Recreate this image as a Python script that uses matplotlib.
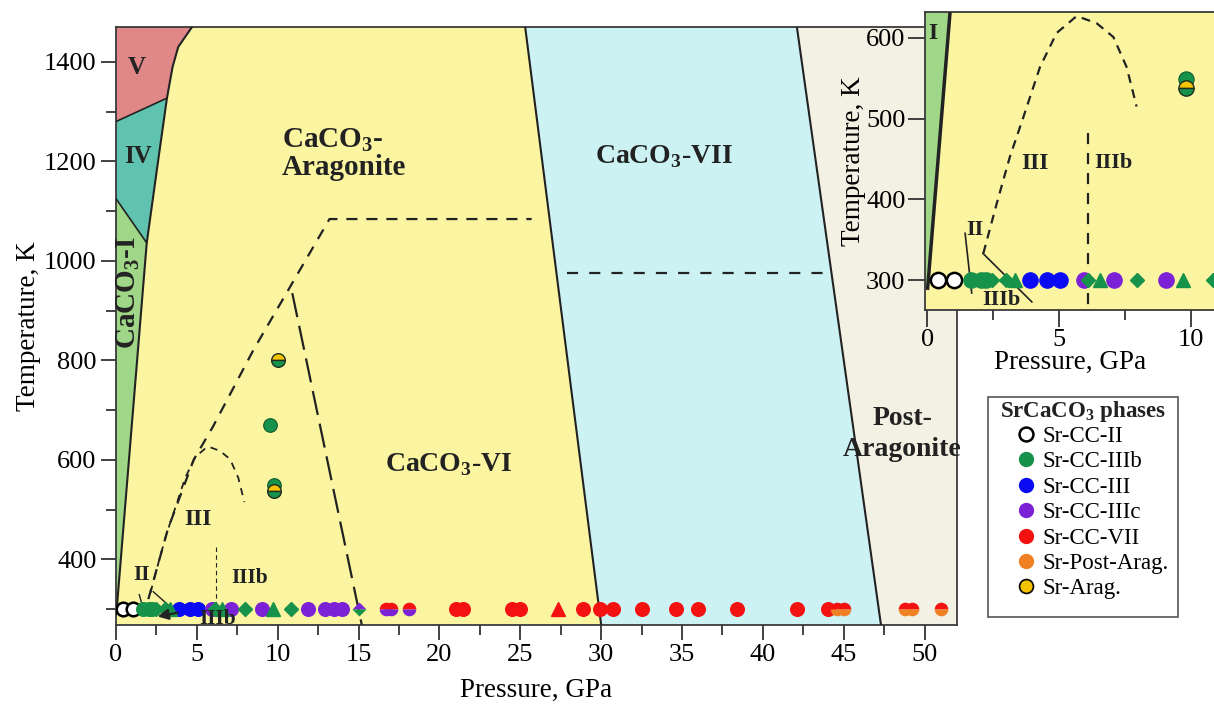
import matplotlib
matplotlib.use('Agg')
import matplotlib.pyplot as plt
from matplotlib.lines import Line2D
from matplotlib.patches import Rectangle

plt.rcParams['font.family'] = ['Liberation Serif', 'DejaVu Serif']
plt.rcParams['mathtext.fontset'] = 'custom'
plt.rcParams['mathtext.rm'] = 'Liberation Serif'
plt.rcParams['mathtext.bf'] = 'Liberation Serif:bold'

# phase boundaries of CaCO3 (pressure GPa, temperature K)
arag_p = [0.02, 1.9, 2.6, 3.15, 3.5, 3.85, 4.7]
arag_t = [290, 1036, 1200, 1327, 1390, 1430, 1470]
i_iv_p = [0.0, 1.9]
i_iv_t = [1125, 1036]
iv_v_p = [0.0, 3.15]
iv_v_t = [1280, 1327]
vi_vii_p = [25.3, 30.0]
vii_post_p = [42.1, 47.3]
bound_t = [1470, 268]

# dashed lines
env_p = [2.0, 3.2, 4.8, 6.0, 8.5, 13.2, 25.7]
env_t = [320, 460, 600, 667, 821, 1084, 1084]
branch_p = [10.9, 15.2]
branch_t = [935, 268]
dome_p = [2.13, 2.64, 3.14, 3.65, 4.28, 4.91, 5.67, 6.43, 7.06, 7.56, 7.94]
dome_t = [333, 395, 453, 502, 564, 606, 627, 618, 601, 564, 515]
vii_dash_p = [27.9, 44.0]
vii_dash_t = [975, 975]

# SrCaCO3 experimental points, at 300 K unless given
ii_p = [0.43, 1.03]
iiib_p = [1.65, 2.05, 2.25]
iiib_dia_p = [2.45, 3.0, 6.1, 7.95, 10.85]
iiib_tri_p = [3.35, 6.55, 9.7]
iiib_hot_p = [9.55, 9.8]
iiib_hot_t = [670, 549]
iii_p = [3.9, 4.55, 5.05]
iiic_p = [5.95, 7.1, 9.05, 11.85, 12.95, 13.45, 13.95]
iiic_iiib_dia_p = [15.0]
vii_iiic_p = [16.7, 17.0, 18.1]
vii_p = [21.0, 21.45, 24.5, 24.95, 28.85, 29.9, 30.75, 32.5, 34.6, 36.0, 38.4, 42.1, 44.0]
vii_tri_p = [27.3]
vii_post_p2 = [44.6, 45.0, 48.8, 49.2, 51.0]
arag_p_pts = [10.0, 9.8]
arag_t_pts = [800, 538]

legend_labels = ['Sr-CC-II', 'Sr-CC-IIIb', 'Sr-CC-III', 'Sr-CC-IIIc',
                 'Sr-CC-VII', 'Sr-Post-Arag.', 'Sr-Arag.']

yellow = '#fbf5a2'
cyan = '#cdf2f4'
beige = '#f3f1e3'
pink = '#e08888'
teal = '#5fc3af'
lgreen = '#a0d688'
green = '#17924a'
blue = '#0a0af5'
purple = '#7b22d6'
red = '#f41111'
orange = '#f08024'
gold = '#f5c400'
ink = '#222222'

W, H = 1214, 704
fig = plt.figure(figsize=(W / 100, H / 100), dpi=100)
ax = fig.add_axes([116 / W, 1 - 625 / H, (957 - 116) / W, (625 - 27) / H])
ax.set_xlim(0, 52)
ax.set_ylim(268, 1470)
ax.set_facecolor(yellow)


def points(a, s):
    T = 300
    ms = 9.8 * s
    a.plot(ii_p, [T] * len(ii_p), 'o', ms=ms, mfc='white', mec='black', mew=1.8, zorder=6)
    a.plot(iiib_p, [T] * len(iiib_p), 'o', ms=ms, color=green, zorder=6)
    a.plot(iii_p, [T] * len(iii_p), 'o', ms=ms, color=blue, zorder=6)
    a.plot(iiic_p, [T] * len(iiic_p), 'o', ms=ms, color=purple, zorder=6)
    a.plot(vii_iiic_p, [T] * len(vii_iiic_p), 'o', ms=ms, mfc=red, mfcalt=purple,
           fillstyle='top', mec='none', zorder=6)
    a.plot(vii_p, [T] * len(vii_p), 'o', ms=ms, color=red, zorder=6)
    a.plot(vii_post_p2, [T] * len(vii_post_p2), 'o', ms=ms, mfc=red, mfcalt=orange,
           fillstyle='top', mec='none', zorder=6)
    a.plot(iiib_dia_p, [T] * len(iiib_dia_p), 'D', ms=6.8 * s, color=green, zorder=7)
    a.plot(iiic_iiib_dia_p, [T], 'D', ms=6.8 * s, mfc=purple, mfcalt=green,
           fillstyle='top', mec='none', zorder=7)
    a.plot(iiib_tri_p, [T] * len(iiib_tri_p), '^', ms=9.5 * s, color=green, zorder=7)
    a.plot(vii_tri_p, [T], '^', ms=9.5 * s, color=red, zorder=7)
    a.plot(iiib_hot_p, iiib_hot_t, 'o', ms=ms, mfc=green, mec='#0c5a2c', mew=0.8, zorder=6)
    a.plot(arag_p_pts, arag_t_pts, 'o', ms=ms, mfc=gold, mfcalt=green, fillstyle='top',
           mec='#1f2d1f', mew=1.0, zorder=7)


# coloured phase fields
ax.fill([vi_vii_p[0], vii_post_p[0], vii_post_p[1], vi_vii_p[1]],
        [1470, 1470, 268, 268], color=cyan, lw=0, zorder=1)
ax.fill([vii_post_p[0], 52, 52, vii_post_p[1]], [1470, 1470, 268, 268], color=beige, lw=0, zorder=1)
ax.fill([0] + arag_p[:2] + [0], [290] + arag_t[:2] + [i_iv_t[0]], color=lgreen, lw=0, zorder=1)
ax.fill([0, 1.9, 2.6, 3.15, 0], [1125, 1036, 1200, 1327, 1280], color=teal, lw=0, zorder=1)
ax.fill([0] + arag_p[3:] + [0], [1280] + arag_t[3:] + [1470], color=pink, lw=0, zorder=1)

ax.plot(arag_p, arag_t, color=ink, lw=1.5, zorder=3)
ax.plot(i_iv_p, i_iv_t, color=ink, lw=1.2, zorder=3)
ax.plot(iv_v_p, iv_v_t, color=ink, lw=1.2, zorder=3)
ax.plot(vi_vii_p, bound_t, color=ink, lw=1.5, zorder=3)
ax.plot(vii_post_p, bound_t, color=ink, lw=1.5, zorder=3)

ax.plot(env_p, env_t, color=ink, lw=1.6, ls=(0, (5, 4)), zorder=3)
ax.plot(branch_p, branch_t, color=ink, lw=1.6, ls=(0, (11, 4)), zorder=3)
ax.plot(dome_p, dome_t, color=ink, lw=1.3, ls=(0, (4, 3.5)), zorder=3)
ax.plot([6.2, 6.2], [425, 300], color=ink, lw=0.8, ls=(0, (4, 3)), zorder=3)
ax.plot(vii_dash_p, vii_dash_t, color=ink, lw=1.6, ls=(0, (5, 5)), zorder=3)
ax.plot([1.44, 1.65], [329, 304], color=ink, lw=1.0, zorder=3)
ax.plot([2.3, 3.34], [335, 305], color=ink, lw=1.0, zorder=3)
ax.annotate('', xy=(2.4, 284), xytext=(4.0, 294),
            arrowprops=dict(arrowstyle='-|>', color=ink, lw=1.6, mutation_scale=16), zorder=9)

points(ax, 1.0)

bold = dict(fontweight='bold', color=ink, ha='center', va='center')
ax.text(1.28, 1388, 'V', fontsize=18, **bold)
ax.text(1.37, 1210, 'IV', fontsize=18, **bold)
ax.text(0.72, 935, r'CaCO$_\mathbf{3}$-I', fontsize=21, rotation=90, **bold)
ax.text(10.25, 1243, r'CaCO$_\mathbf{3}$-', fontsize=21, fontweight='bold', color=ink, ha='left', va='center')
ax.text(10.25, 1187, 'Aragonite', fontsize=21, fontweight='bold', color=ink, ha='left', va='center')
ax.text(33.9, 1209, r'CaCO$_\mathbf{3}$-VII', fontsize=20, **bold)
ax.text(20.6, 590, r'CaCO$_\mathbf{3}$-VI', fontsize=20, **bold)
ax.text(48.6, 684, 'Post-', fontsize=20, **bold)
ax.text(48.6, 620, 'Aragonite', fontsize=20, **bold)
ax.text(5.07, 480, 'III', fontsize=17, **bold)
ax.text(8.28, 363, 'IIIb', fontsize=15.5, **bold)
ax.text(1.59, 369, 'II', fontsize=15.5, **bold)
ax.text(6.3, 280, 'IIIb', fontsize=15.5, zorder=8, **bold)

ax.set_xticks(range(0, 51, 5))
ax.set_xticks([2.5 + 5 * i for i in range(10)], minor=True)
ax.set_yticks([400, 600, 800, 1000, 1200, 1400])
ax.set_yticks([300, 500, 700, 900, 1100, 1300], minor=True)
ax.tick_params(which='major', direction='out', length=11, width=1.2, labelsize=19, color=ink, pad=3)
ax.tick_params(which='minor', direction='out', length=7, width=1.2, color=ink)
ax.set_xlabel('Pressure, GPa', fontsize=19.5, labelpad=8)
ax.set_ylabel('Temperature, K', fontsize=19.5, labelpad=2)
for sp in ax.spines.values():
    sp.set_color('#3a3a3a')
    sp.set_linewidth(1.3)

# inset: low pressure / low temperature detail
axin = fig.add_axes([925 / W, 1 - 310 / H, (1216 - 925) / W, (310 - 12) / H])
axin.set_xlim(-0.08, 10.95)
axin.set_ylim(263, 632)
axin.set_facecolor(yellow)
axin.fill([-0.08, 0.02, 0.87, -0.08], [290, 290, 632, 632], color=lgreen, lw=0, zorder=1)
axin.plot([0.02, 0.87], [290, 632], color=ink, lw=2.5, zorder=3)
axin.plot(dome_p, dome_t, color=ink, lw=1.6, ls=(0, (4, 3)), zorder=3)
axin.plot([6.1, 6.1], [482, 263], color=ink, lw=1.6, ls=(0, (5, 4)), zorder=3)
axin.plot([1.44, 1.69], [358, 284], color=ink, lw=1.2, zorder=3)
axin.plot([2.12, 3.97], [333, 273], color=ink, lw=1.2, zorder=3)
points(axin, 1.12)
axin.text(0.2, 605, 'I', fontsize=17, **bold)
axin.text(4.09, 445, 'III', fontsize=17, **bold)
axin.text(7.05, 445, 'IIIb', fontsize=16, **bold)
axin.text(1.82, 362, 'II', fontsize=16, **bold)
axin.text(2.83, 275, 'IIIb', fontsize=16, zorder=5, **bold)
axin.set_xticks([0, 5, 10])
axin.set_xticks([2.5, 7.5], minor=True)
axin.set_yticks([300, 400, 500, 600])
axin.tick_params(which='major', direction='out', length=12, width=1.2, labelsize=19, color=ink, pad=2)
axin.tick_params(which='minor', direction='out', length=7, width=1.2, color=ink)
axin.set_xlabel('Pressure, GPa', fontsize=19.5, labelpad=-1)
axin.set_ylabel('Temperature, K', fontsize=19.5, labelpad=0)
for sp in axin.spines.values():
    sp.set_color('#3a3a3a')
    sp.set_linewidth(1.3)

# legend box with title
fig.patches.append(Rectangle((988 / W, 1 - 617 / H), 190 / W, 220 / H, transform=fig.transFigure,
                             facecolor='white', edgecolor='#555555', lw=1.2, zorder=2))
fig.text(1083 / W, 1 - 412 / H, r'SrCaCO$_\mathbf{3}$ phases', fontsize=16.5, fontweight='bold',
         color=ink, ha='center', va='center', zorder=3)
handles = [
    Line2D([], [], ls='none', marker='o', ms=10, mfc='white', mec='black', mew=1.8),
    Line2D([], [], ls='none', marker='o', ms=10, color=green),
    Line2D([], [], ls='none', marker='o', ms=10, color=blue),
    Line2D([], [], ls='none', marker='o', ms=10, color=purple),
    Line2D([], [], ls='none', marker='o', ms=10, color=red),
    Line2D([], [], ls='none', marker='o', ms=10, color=orange),
    Line2D([], [], ls='none', marker='o', ms=10, mfc=gold, mec='black', mew=1.2),
]
leg = fig.legend(handles, legend_labels, loc='upper left',
                 bbox_to_anchor=((1026 - 11.5) / W, 1 - 426 / H), borderaxespad=0,
                 fontsize=16.5, frameon=False, labelspacing=0.19, handlelength=1.0,
                 handletextpad=0.2, borderpad=0)
leg.set_zorder(4)

fig.savefig('out.png', dpi=100)
